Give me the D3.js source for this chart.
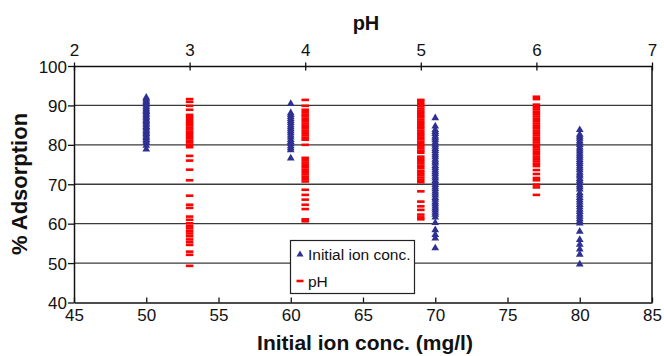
<!DOCTYPE html>
<html>
<head>
<meta charset="utf-8">
<script src="https://cdn.jsdelivr.net/npm/d3@7"></script>
<style>
  body { margin: 0; background: #fff; }
  svg { display: block; font-family: "Liberation Sans", Arial, sans-serif; }
</style>
</head>
<body>
<svg class="chart" width="664" height="356"></svg>
<script>
// initial ion conc. series (mg/l) and their % adsorption readings
var ionConc = [50, 60, 70, 80];
var ion50 = [92.0, 91.6, 91.3, 90.9, 90.6, 90.2, 89.8, 89.5, 89.1, 88.7, 88.4, 88.0, 87.6, 87.2, 86.9, 86.5,
             86.1, 85.8, 85.4, 85.0, 84.6, 84.3, 83.9, 83.5, 83.2, 82.8, 82.4, 82.0, 81.7, 81.3, 80.9, 80.5, 79.8, 78.9];
var ion60 = [90.4, 88.1, 87.6, 87.1, 86.6, 86.1, 85.6, 85.0, 84.5, 84.0, 83.5, 83.0, 82.4, 81.9, 81.3,
             80.8, 80.3, 79.7, 79.2, 78.7, 76.6];
var ion70 = [86.8, 84.7, 83.8, 83.3, 82.8, 82.2, 81.7, 81.2, 80.6, 80.1, 79.6, 79.0, 78.5, 77.9, 77.4, 76.9,
             76.3, 75.8, 75.3, 74.7, 74.2, 73.6, 73.1, 72.6, 72.0, 71.5, 70.9, 70.4, 69.9, 69.3, 68.8, 68.2,
             67.7, 67.2, 66.6, 66.1, 65.5, 65.0, 64.4, 63.9, 63.4, 62.8, 62.3, 61.6, 60.2, 58.4, 57.2, 56.3, 53.8];
var ion80 = [83.8, 82.6, 82.1, 81.6, 81.0, 80.5, 80.0, 79.4, 78.9, 78.4, 77.8, 77.3, 76.8, 76.2, 75.7, 75.2,
             74.6, 74.1, 73.6, 73.0, 72.5, 72.0, 71.4, 70.9, 70.4, 69.8, 69.3, 68.7, 67.8, 67.2, 66.6, 66.0,
             65.4, 64.8, 64.2, 63.6, 63.0, 62.4, 61.8, 61.2, 60.6, 60.1, 58.0, 55.9, 54.7, 53.5, 52.2, 49.7];

// pH series and their % adsorption readings
var phLevels = [3, 4, 5, 6];
var ph3 = [91.6, 90.9, 89.9, 88.9, 87.6, 87.1, 86.6, 86.0, 85.5, 85.0, 84.4, 83.9, 83.3, 82.8, 82.2, 81.7,
           81.1, 80.6, 80.0, 79.4, 77.2, 76.0, 73.7, 71.0, 67.1, 64.8, 64.0, 61.8, 61.0, 60.1, 59.4, 58.8,
           58.1, 57.5, 56.8, 56.0, 55.3, 54.6, 52.9, 52.1, 49.3];
var ph4 = [91.4, 89.9, 88.9, 88.3, 87.7, 87.2, 86.6, 86.0, 85.4, 84.8, 84.2, 83.6, 83.0, 82.4, 81.8, 81.3,
           80.0, 76.7, 76.1, 75.5, 74.9, 74.3, 73.7, 73.1, 72.5, 71.9, 71.3, 70.7, 68.6, 67.3, 66.1, 64.8,
           63.7, 61.1, 60.6];
var ph5 = [91.4, 90.9, 90.3, 89.8, 89.2, 88.6, 88.1, 87.5, 87.0, 86.4, 85.8, 85.3, 84.7, 84.2, 83.6, 83.0,
           82.5, 81.9, 81.4, 80.8, 80.2, 79.7, 79.1, 78.5, 78.0, 77.0, 76.4, 75.9, 75.3, 74.7, 74.1, 73.4,
           72.9, 72.3, 71.7, 71.1, 70.5, 68.2, 65.6, 64.4, 63.5, 62.3, 61.6, 61.1];
var ph6 = [92.2, 91.6, 90.2, 89.6, 89.0, 88.4, 87.8, 87.2, 86.6, 86.0, 85.4, 84.8, 84.2, 83.6, 83.0, 82.4,
           81.8, 81.2, 80.6, 80.0, 79.4, 78.8, 78.2, 77.6, 77.0, 76.4, 75.8, 75.2, 74.6, 73.6, 72.6, 71.6,
           71.0, 69.9, 69.2, 67.3];

var xTicks = [45, 50, 55, 60, 65, 70, 75, 80, 85];
var phTicks = [2, 3, 4, 5, 6, 7];
var yTicks = [40, 50, 60, 70, 80, 90, 100];
var gridVals = [50, 60, 70, 80, 90];

var ionPts = [];
[ion50, ion60, ion70, ion80].forEach(function(arr, i) {
  arr.forEach(function(v) { ionPts.push([ionConc[i], v]); });
});
var phPts = [];
[ph3, ph4, ph5, ph6].forEach(function(arr, i) {
  arr.forEach(function(v) { phPts.push([phLevels[i], v]); });
});

var pLeft = 74, pRight = 652, pTop = 66, pBottom = 302.5;
var svg = d3.select(".chart");

var x = d3.scaleLinear().domain([45, 85]).range([pLeft, pRight]);
var xPh = d3.scaleLinear().domain([2, 7]).range([pLeft, pRight]);
var y = d3.scaleLinear().domain([40, 100]).range([pBottom, pTop]);

var blue = "#2e3192", red = "#ff0000";

// gridlines
svg.append("g").selectAll("line").data(gridVals).enter().append("line")
  .attr("x1", pLeft).attr("x2", pRight)
  .attr("y1", function(d) { return y(d); }).attr("y2", function(d) { return y(d); })
  .attr("stroke", "#3a3a3a").attr("stroke-width", 1.3);

// right border
svg.append("line").attr("x1", pRight).attr("x2", pRight).attr("y1", pTop).attr("y2", pBottom)
  .attr("stroke", "#111").attr("stroke-width", 1.5);

// axes
var fmt = d3.format("d");
var gx = svg.append("g").attr("transform", "translate(0," + pBottom + ")")
  .call(d3.axisBottom(x).tickValues(xTicks).tickFormat(fmt).tickSizeInner(-5).tickSizeOuter(0).tickPadding(6));
var gTop = svg.append("g").attr("transform", "translate(0," + pTop + ")")
  .call(d3.axisTop(xPh).tickValues(phTicks).tickFormat(fmt).tickSizeInner(4).tickSizeOuter(0).tickPadding(6));
gTop.selectAll(".tick line").attr("y2", 4.5).attr("y1", -3.5);
var gy = svg.append("g").attr("transform", "translate(" + pLeft + ",0)")
  .call(d3.axisLeft(y).tickValues(yTicks).tickFormat(fmt).tickSizeInner(6).tickSizeOuter(0).tickPadding(1));

[gx, gTop, gy].forEach(function(g) {
  g.attr("font-size", 17).attr("font-family", "'Liberation Sans', Arial, sans-serif");
  g.selectAll("text").attr("fill", "#111");
  g.selectAll("line").attr("stroke", "#111").attr("stroke-width", 1.3);
  g.select(".domain").attr("stroke", "#111").attr("stroke-width", 1.5);
});
gy.selectAll("text").attr("dy", "0.36em");

// pH markers (dashes)
svg.append("g").selectAll("rect").data(phPts).enter().append("rect")
  .attr("x", function(d) { return xPh(d[0]) - 3.75; })
  .attr("y", function(d) { return y(d[1]) - 1.3; })
  .attr("width", 7.5).attr("height", 2.6)
  .attr("fill", red);

// ion conc markers (triangles)
var tri = d3.symbol().type(d3.symbolTriangle).size(26);
svg.append("g").selectAll("path").data(ionPts).enter().append("path")
  .attr("d", tri)
  .attr("transform", function(d) { return "translate(" + x(d[0]) + "," + y(d[1]) + ")"; })
  .attr("fill", blue);

// axis titles
svg.append("text").attr("x", 366).attr("y", 29.5).attr("text-anchor", "middle")
  .attr("font-size", 20).attr("font-weight", "bold").attr("fill", "#111").text("pH");
svg.append("text").attr("x", 365).attr("y", 349.5).attr("text-anchor", "middle")
  .attr("font-size", 21).attr("font-weight", "bold").attr("fill", "#111").text("Initial ion conc. (mg/l)");
svg.append("text").attr("transform", "translate(27,184) rotate(-90)").attr("text-anchor", "middle")
  .attr("font-size", 22).attr("font-weight", "bold").attr("fill", "#111").text("% Adsorption");

// legend
var lg = svg.append("g");
lg.append("rect").attr("x", 290.5).attr("y", 240.5).attr("width", 124).attr("height", 53)
  .attr("fill", "#fff").attr("stroke", "#222").attr("stroke-width", 1.2);
lg.append("path").attr("d", d3.symbol().type(d3.symbolTriangle).size(22))
  .attr("transform", "translate(300,254.5)").attr("fill", blue);
lg.append("rect").attr("x", 296.5).attr("y", 279.7).attr("width", 7).attr("height", 2.6).attr("fill", red);
lg.append("text").attr("x", 308).attr("y", 260).attr("font-size", 15.5).attr("fill", "#111").text("Initial ion conc.");
lg.append("text").attr("x", 308).attr("y", 286.5).attr("font-size", 15.5).attr("fill", "#111").text("pH");
</script>
</body>
</html>
